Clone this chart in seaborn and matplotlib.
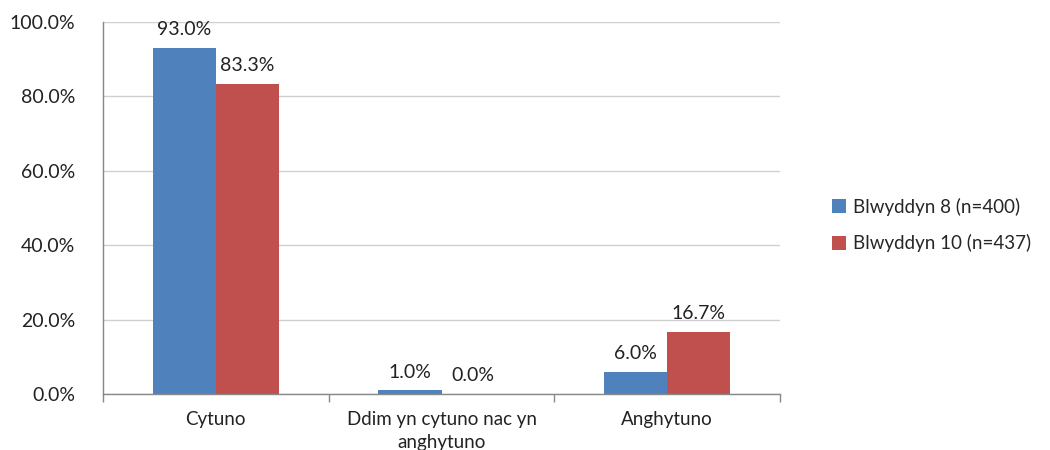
import matplotlib
matplotlib.use("Agg")
import matplotlib.pyplot as plt
import pandas as pd
import seaborn as sns
from matplotlib.ticker import FuncFormatter, FixedLocator

categories = ["Cytuno", "Ddim yn cytuno nac yn\nanghytuno", "Anghytuno"]
series_names = ["Blwyddyn 8 (n=400)", "Blwyddyn 10 (n=437)"]
year8 = [93.0, 1.0, 6.0]
year10 = [83.3, 0.0, 16.7]
colors = ["#4F81BD", "#C0504D"]

df = pd.DataFrame({
    "category": categories * 2,
    "series": [series_names[0]] * 3 + [series_names[1]] * 3,
    "value": year8 + year10,
})

sns.set_theme(style="white")
plt.rcParams["font.family"] = ["Lato", "DejaVu Sans"]

fig = plt.figure(figsize=(10.5, 4.5), dpi=100)
ax = fig.add_axes([0.098, 0.124, 0.645, 0.827])

sns.barplot(
    data=df, x="category", y="value", hue="series",
    palette=colors, width=0.56, gap=0, saturation=1, linewidth=0,
    order=categories, hue_order=series_names, ax=ax, legend=True,
)

for container in ax.containers:
    ax.bar_label(container, labels=[f"{v:.1f}%" for v in container.datavalues],
                 padding=7, fontsize=14, color="#222222")

ax.set_ylim(0, 100)
ax.set_xlim(-0.5, 2.5)
ax.set_yticks([0, 20, 40, 60, 80, 100])
ax.yaxis.set_major_formatter(FuncFormatter(lambda v, p: f"{v:.1f}%"))
ax.yaxis.grid(True, color="#d0d0d0", linewidth=1)
ax.set_axisbelow(True)
ax.set_xlabel("")
ax.set_ylabel("")

ax.tick_params(axis="x", which="major", length=0, labelsize=13.5, pad=12, colors="#222222")
for lbl in ax.get_xticklabels():
    lbl.set_linespacing(1.45)
ax.xaxis.set_minor_locator(FixedLocator([-0.5, 0.5, 1.5, 2.5]))
ax.tick_params(axis="x", which="minor", length=6, color="#888888", bottom=True)
ax.tick_params(axis="y", which="major", length=0, labelsize=14, pad=20, colors="#222222")

for side in ["top", "right"]:
    ax.spines[side].set_visible(False)
for side in ["left", "bottom"]:
    ax.spines[side].set_color("#888888")
    ax.spines[side].set_linewidth(1)

handles, labels = ax.get_legend_handles_labels()
ax.legend_.remove()
fig.legend(handles, labels, loc="center left", bbox_to_anchor=(0.776, 0.5),
           frameon=False, fontsize=13.5, handlelength=0.75, handleheight=0.75,
           handletextpad=0.4, labelspacing=1.0)

fig.savefig("out.png", dpi=100)
